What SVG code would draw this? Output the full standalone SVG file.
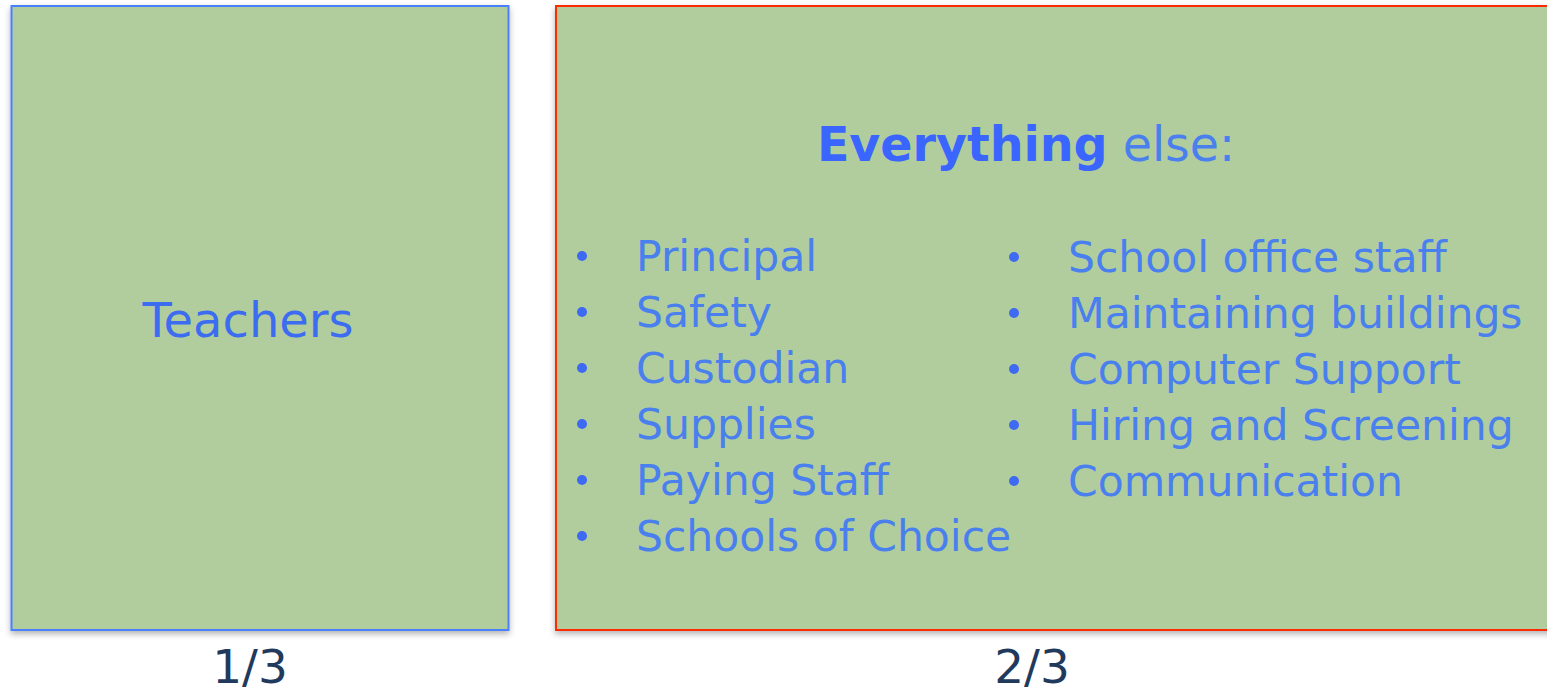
<svg xmlns="http://www.w3.org/2000/svg" width="1547" height="695" viewBox="0 0 1547 695">
<style>
.box{fill:#b2cd9d;stroke-width:2;filter:url(#sh)}
.t{font-family:"DejaVu Sans",Verdana,sans-serif}
.item{font-size:42.5px;fill:#4a80ee}
.bul{fill:#3d6af0}
.frac{font-size:47px;fill:#1f3a5c;text-anchor:middle}
</style>
<defs>
<filter id="sh" x="-5%" y="-5%" width="110%" height="115%">
<feDropShadow dx="0" dy="3" stdDeviation="3" flood-color="#000" flood-opacity="0.3"/>
</filter>
</defs>
<g id="teachers">
<rect class="box" x="11.5" y="6" width="497" height="624" stroke="#4a80ff"/>
<text class="t" x="248" y="337" font-size="48" fill="#3c6cf0" text-anchor="middle">Teachers</text>
</g>
<g id="everything">
<rect class="box" x="556" y="6" width="1010" height="624" stroke="#ff2a00"/>
<text class="t" x="1026" y="161" font-size="47.5" fill="#3a66ff" text-anchor="middle"><tspan font-weight="bold">Everything</tspan><tspan fill="#4a80ee"> else:</tspan></text>
<g class="t item">
<text x="636" y="271">Principal</text>
<text x="636" y="327">Safety</text>
<text x="636" y="383">Custodian</text>
<text x="636" y="439">Supplies</text>
<text x="636" y="495">Paying Staff</text>
<text x="636" y="551">Schools of Choice</text>
<text x="1068" y="272">School office staff</text>
<text x="1068" y="328">Maintaining buildings</text>
<text x="1068" y="384">Computer Support</text>
<text x="1068" y="440">Hiring and Screening</text>
<text x="1068" y="496">Communication</text>
</g>
<g class="bul">
<circle cx="582" cy="256" r="5"/>
<circle cx="582" cy="312" r="5"/>
<circle cx="582" cy="368" r="5"/>
<circle cx="582" cy="424" r="5"/>
<circle cx="582" cy="480" r="5"/>
<circle cx="582" cy="536" r="5"/>
<circle cx="1014" cy="257" r="5"/>
<circle cx="1014" cy="313" r="5"/>
<circle cx="1014" cy="369" r="5"/>
<circle cx="1014" cy="425" r="5"/>
<circle cx="1014" cy="481" r="5"/>
</g>
</g>
<g id="connectors"/>
<text class="t frac" x="250" y="683">1/3</text>
<text class="t frac" x="1032" y="683">2/3</text>
</svg>
